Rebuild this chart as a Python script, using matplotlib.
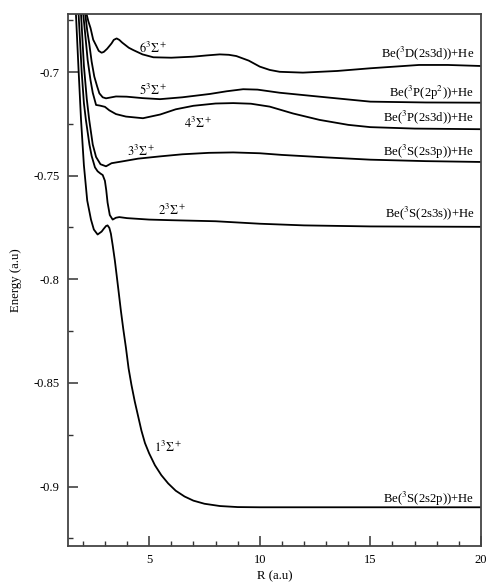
import matplotlib
matplotlib.use("Agg")
import matplotlib.pyplot as plt
from matplotlib.ticker import MultipleLocator, FormatStrFormatter

plt.rcParams['font.family'] = ['Liberation Serif', 'DejaVu Serif']
plt.rcParams['mathtext.fontset'] = 'stix'
plt.rcParams['axes.unicode_minus'] = False

# ---- data ----
r1 = [1.60, 1.69, 1.80, 1.92, 2.05, 2.20, 2.37, 2.50, 2.67, 2.85, 2.95, 3.05, 3.12, 3.20, 3.27,
      3.35, 3.45, 3.53, 3.62, 3.72, 3.83, 3.95, 4.07, 4.20, 4.35, 4.50, 4.65, 4.81, 5.00, 5.26,
      5.55, 5.86, 6.20, 6.60, 7.00, 7.50, 8.20, 9.00, 10.0, 15.0, 20.0]
e1 = [-0.650, -0.672, -0.697, -0.723, -0.745, -0.762, -0.7712, -0.776, -0.7784, -0.777, -0.7756,
      -0.7743, -0.774, -0.7752, -0.778, -0.7835, -0.791, -0.798, -0.806, -0.815, -0.824, -0.833,
      -0.843, -0.851, -0.859, -0.866, -0.873, -0.879, -0.884, -0.8897, -0.8945, -0.8985, -0.9020,
      -0.9048, -0.9068, -0.9083, -0.9094, -0.9099, -0.9100, -0.9100, -0.9100]

r2 = [1.70, 1.81, 1.95, 2.05, 2.14, 2.30, 2.40, 2.55, 2.67, 2.80, 2.90, 3.00, 3.06, 3.12, 3.22,
      3.35, 3.50, 3.65, 4.00, 5.00, 6.00, 8.00, 10.0, 12.0, 15.0, 20.0]
e2 = [-0.650, -0.672, -0.700, -0.715, -0.7231, -0.735, -0.7405, -0.746, -0.7479, -0.749, -0.7497,
      -0.7525, -0.757, -0.763, -0.769, -0.7712, -0.7703, -0.770, -0.7705, -0.7712, -0.7715,
      -0.772, -0.7732, -0.774, -0.7745, -0.7747]

r3 = [1.80, 1.92, 2.05, 2.18, 2.29, 2.45, 2.60, 2.80, 3.05, 3.30, 3.80, 4.50, 5.50, 6.50, 7.70,
      8.80, 10.0, 11.0, 13.0, 15.0, 17.5, 20.0]
e3 = [-0.650, -0.672, -0.697, -0.713, -0.7231, -0.735, -0.741, -0.7445, -0.7455, -0.744, -0.7431,
      -0.7418, -0.7407, -0.7397, -0.739, -0.7388, -0.7392, -0.740, -0.7412, -0.7423, -0.743, -0.7434]

r4 = [1.90, 2.02, 2.12, 2.22, 2.35, 2.45, 2.60, 2.77, 3.00, 3.20, 3.50, 3.95, 4.72, 5.50, 6.20,
      7.00, 8.00, 8.80, 9.60, 10.45, 11.5, 12.7, 14.0, 15.0, 17.0, 20.0]
e4 = [-0.650, -0.672, -0.683, -0.6942, -0.704, -0.710, -0.7159, -0.7162, -0.7168, -0.7185, -0.7203,
      -0.7215, -0.7223, -0.7205, -0.718, -0.7163, -0.7152, -0.715, -0.7153, -0.7167, -0.720,
      -0.7231, -0.7255, -0.7266, -0.7273, -0.7276]

r5 = [2.00, 2.11, 2.20, 2.29, 2.40, 2.52, 2.65, 2.75, 2.90, 3.05, 3.20, 3.50, 3.98, 4.70, 5.49,
      6.50, 7.74, 8.50, 9.25, 9.90, 10.9, 12.7, 15.0, 17.5, 20.0]
e5 = [-0.650, -0.672, -0.680, -0.6862, -0.695, -0.7022, -0.707, -0.7103, -0.7122, -0.7127, -0.7124,
      -0.7118, -0.7119, -0.7126, -0.7131, -0.7122, -0.7106, -0.7093, -0.7083, -0.7085, -0.710,
      -0.7119, -0.7143, -0.7147, -0.7148]

r6 = [2.05, 2.17, 2.25, 2.35, 2.47, 2.62, 2.72, 2.85, 2.95, 3.10, 3.30, 3.40, 3.53, 3.65, 3.78,
      3.90, 4.08, 4.28, 4.70, 5.19, 6.00, 6.99, 7.60, 8.19, 8.60, 8.94, 9.50, 10.0, 10.45, 10.9,
      11.95, 13.5, 15.0, 17.2, 18.5, 20.0]
e6 = [-0.650, -0.672, -0.6755, -0.6788, -0.6844, -0.6876, -0.6898, -0.6907, -0.6903, -0.6888,
      -0.6862, -0.6845, -0.6838, -0.6845, -0.6858, -0.6868, -0.6883, -0.6894, -0.6915, -0.6929,
      -0.6931, -0.6926, -0.692, -0.6915, -0.6917, -0.6923, -0.6945, -0.6974, -0.699, -0.6999,
      -0.7003, -0.6995, -0.6982, -0.6966, -0.6966, -0.6971]

curves = [(r1, e1), (r2, e2), (r3, e3), (r4, e4), (r5, e5), (r6, e6)]

state_labels = [r'$1^3\Sigma^+$', r'$2^3\Sigma^+$', r'$3^3\Sigma^+$',
                r'$4^3\Sigma^+$', r'$5^3\Sigma^+$', r'$6^3\Sigma^+$']
state_label_r = [5.85, 6.03, 4.63, 7.2, 5.19, 5.2]
state_label_e = [-0.881, -0.767, -0.7385, -0.725, -0.7091, -0.6885]

asym_labels = [r'Be($^3$S(2s2p))+He', r'Be($^3$S(2s3s))+He', r'Be($^3$S(2s3p))+He',
               r'Be($^3$P(2s3d))+He', r'Be($^3$P(2p$^2$))+He', r'Be($^3$D(2s3d))+He']
asym_label_e = [-0.9058, -0.7683, -0.7385, -0.7216, -0.7100, -0.6909]

# ---- figure ----
fig = plt.figure(figsize=(4.89, 5.82), dpi=100)
ax = fig.add_axes([0.139, 0.0625, 0.8446, 0.9135])

for r, e in curves:
    ax.plot(r, e, color='black', lw=1.3, solid_capstyle='round', solid_joinstyle='round')

for lab, x, y in zip(state_labels, state_label_r, state_label_e):
    ax.text(x, y, lab, fontsize=9, ha='center', va='center')

for lab, y in zip(asym_labels, asym_label_e):
    ax.text(19.7, y, lab, fontsize=9.2, ha='right', va='center')

ax.set_xlim(1.33, 20)
ax.set_ylim(-0.9285, -0.672)

ax.xaxis.set_major_locator(MultipleLocator(5))
ax.xaxis.set_minor_locator(MultipleLocator(1))
ax.yaxis.set_major_locator(MultipleLocator(0.05))
ax.yaxis.set_minor_locator(MultipleLocator(0.025))
ax.yaxis.set_major_formatter(FormatStrFormatter('%g'))
ax.xaxis.set_major_formatter(FormatStrFormatter('%g'))

ax.tick_params(axis='both', which='major', direction='in', length=7, width=1.1,
               labelsize=9, top=False, right=False, color='#333333', pad=6)
ax.tick_params(axis='both', which='minor', direction='in', length=3.5, width=1.0,
               top=False, right=False, color='#333333')
for s in ax.spines.values():
    s.set_linewidth(1.3)
    s.set_color('#444444')

ax.set_xlabel('R (a.u)', fontsize=9.2, labelpad=3)
ax.set_ylabel('Energy (a.u)', fontsize=9.2, labelpad=8)

fig.savefig('out.png', dpi=100)
